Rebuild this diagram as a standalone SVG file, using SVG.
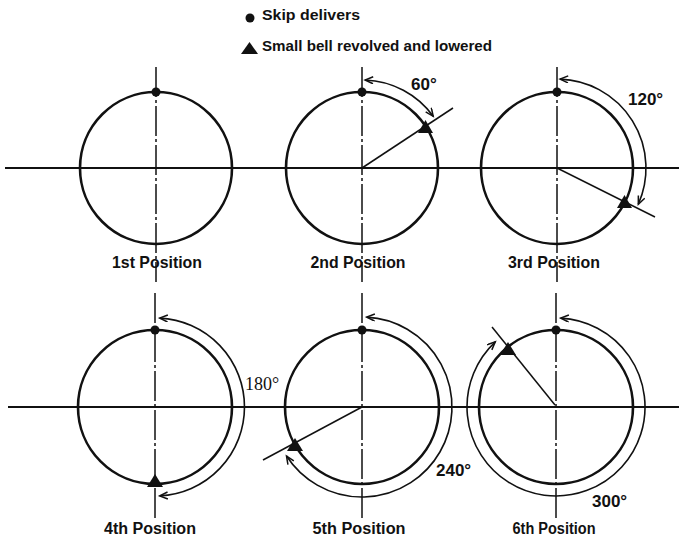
<svg xmlns="http://www.w3.org/2000/svg" width="679" height="539" viewBox="0 0 679 539">
<style>
.circ{fill:none;stroke:#111;stroke-width:2.6}
.axis{stroke:#111;stroke-width:2.2;fill:none}
.center{stroke:#111;stroke-width:1.5;stroke-dasharray:30 3 3 3;fill:none}
.rad{stroke:#111;stroke-width:1.5;fill:none}
.arc{stroke:#111;stroke-width:1.6;fill:none;marker-start:url(#ah);marker-end:url(#ah)}
.dot{fill:#111}
.lbl{font-family:"Liberation Sans",Arial,sans-serif;font-weight:bold;font-size:17px;fill:#111}
.lbl2{font-family:"Liberation Sans",Arial,sans-serif;font-weight:bold;font-size:16px;fill:#111}
.deg{font-family:"Liberation Sans",Arial,sans-serif;font-weight:bold;font-size:17px;fill:#111}
.degs{font-family:"Liberation Serif","Times New Roman",serif;font-size:18px;fill:#111}
.leg{font-family:"Liberation Sans",Arial,sans-serif;font-weight:bold;font-size:15px;fill:#111}
</style>
<defs>
<marker id="ah" markerUnits="userSpaceOnUse" markerWidth="12" markerHeight="10" refX="9" refY="4" orient="auto-start-reverse">
<path d="M1,0.5 L9,4 L1,7.5" fill="none" stroke="#111" stroke-width="1.5"/>
</marker>
</defs>
<rect width="679" height="539" fill="#fff"/>

<g id="legend">
<circle class="dot" cx="250" cy="18" r="4.5"/>
<text class="leg" x="262" y="20" textLength="98" lengthAdjust="spacingAndGlyphs">Skip delivers</text>
<polygon class="dot" points="241,54 258,54 249.5,42"/>
<text class="leg" x="262" y="51" textLength="230" lengthAdjust="spacingAndGlyphs">Small bell revolved and lowered</text>
</g>

<g id="axes">
<line class="axis" x1="5" y1="168" x2="679" y2="168"/>
<line class="axis" x1="8" y1="407" x2="679" y2="407"/>
<line class="center" x1="156" y1="67" x2="156" y2="282"/>
<line class="center" x1="362" y1="67" x2="362" y2="282"/>
<line class="center" x1="557" y1="67" x2="557" y2="282"/>
<line class="center" x1="155" y1="293" x2="155" y2="518"/>
<line class="center" x1="362" y1="293" x2="362" y2="518"/>
<line class="center" x1="556" y1="293" x2="556" y2="518"/>
</g>

<g id="pos1">
<circle class="circ" cx="156" cy="168" r="76"/>
<circle class="dot" cx="156" cy="92" r="4.5"/>
<text class="lbl" x="157" y="268" text-anchor="middle" textLength="90" lengthAdjust="spacingAndGlyphs">1st Position</text>
</g>

<g id="pos2">
<circle class="circ" cx="362" cy="168" r="76"/>
<circle class="dot" cx="362" cy="92" r="4.5"/>
<line class="rad" x1="362" y1="168" x2="453" y2="108"/>
<polygon class="dot" points="418,133 433,133 425.5,120"/>
<text class="deg" x="411" y="90">60°</text>
<text class="lbl" x="358" y="268" text-anchor="middle" textLength="95" lengthAdjust="spacingAndGlyphs">2nd Position</text>
</g>

<g id="pos3">
<circle class="circ" cx="557" cy="168" r="76"/>
<circle class="dot" cx="557" cy="92" r="4.5"/>
<line class="rad" x1="557" y1="168" x2="655" y2="217"/>
<polygon class="dot" points="617,208 632,208 624.5,195"/>
<text class="deg" x="628" y="105">120°</text>
<text class="lbl" x="554" y="268" text-anchor="middle" textLength="92" lengthAdjust="spacingAndGlyphs">3rd Position</text>
</g>

<g id="pos4">
<circle class="circ" cx="155" cy="407" r="77"/>
<circle class="dot" cx="155" cy="330" r="4.5"/>
<polygon class="dot" points="147,487 163,487 155,474"/>
<text class="degs" x="245" y="390">180°</text>
<text class="lbl2" x="150" y="534" text-anchor="middle" textLength="92" lengthAdjust="spacingAndGlyphs">4th Position</text>
</g>

<g id="pos5">
<circle class="circ" cx="362" cy="407" r="77"/>
<circle class="dot" cx="362" cy="330" r="4.5"/>
<line class="rad" x1="362" y1="407" x2="263" y2="460"/>
<polygon class="dot" points="287,451 303,451 295,438"/>
<text class="deg" x="436" y="476">240°</text>
<text class="lbl2" x="359" y="534" text-anchor="middle" textLength="93" lengthAdjust="spacingAndGlyphs">5th Position</text>
</g>

<g id="pos6">
<circle class="circ" cx="556" cy="407" r="77"/>
<circle class="dot" cx="556" cy="330" r="4.5"/>
<line class="rad" x1="555" y1="405" x2="492" y2="327"/>
<polygon class="dot" points="500,355 516,355 508,342"/>
<text class="deg" x="592" y="507">300°</text>
<text class="lbl2" x="554" y="534" text-anchor="middle" textLength="83" lengthAdjust="spacingAndGlyphs">6th Position</text>
</g>

<g id="connectors">
<path class="arc" d="M365.1,80 A88,88 0 0 1 433.2,116.3"/>
<path class="arc" d="M560.1,79.1 A89,89 0 0 1 638.3,204.2"/>
<path class="arc" d="M159.7,318.1 A89,89 0 0 1 159.7,495.9"/>
<path class="arc" d="M366.7,317.1 A90,90 0 1 1 286.5,456"/>
<path class="arc" d="M560.7,318.1 A89,89 0 1 1 495.3,341.9"/>
</g>
</svg>
